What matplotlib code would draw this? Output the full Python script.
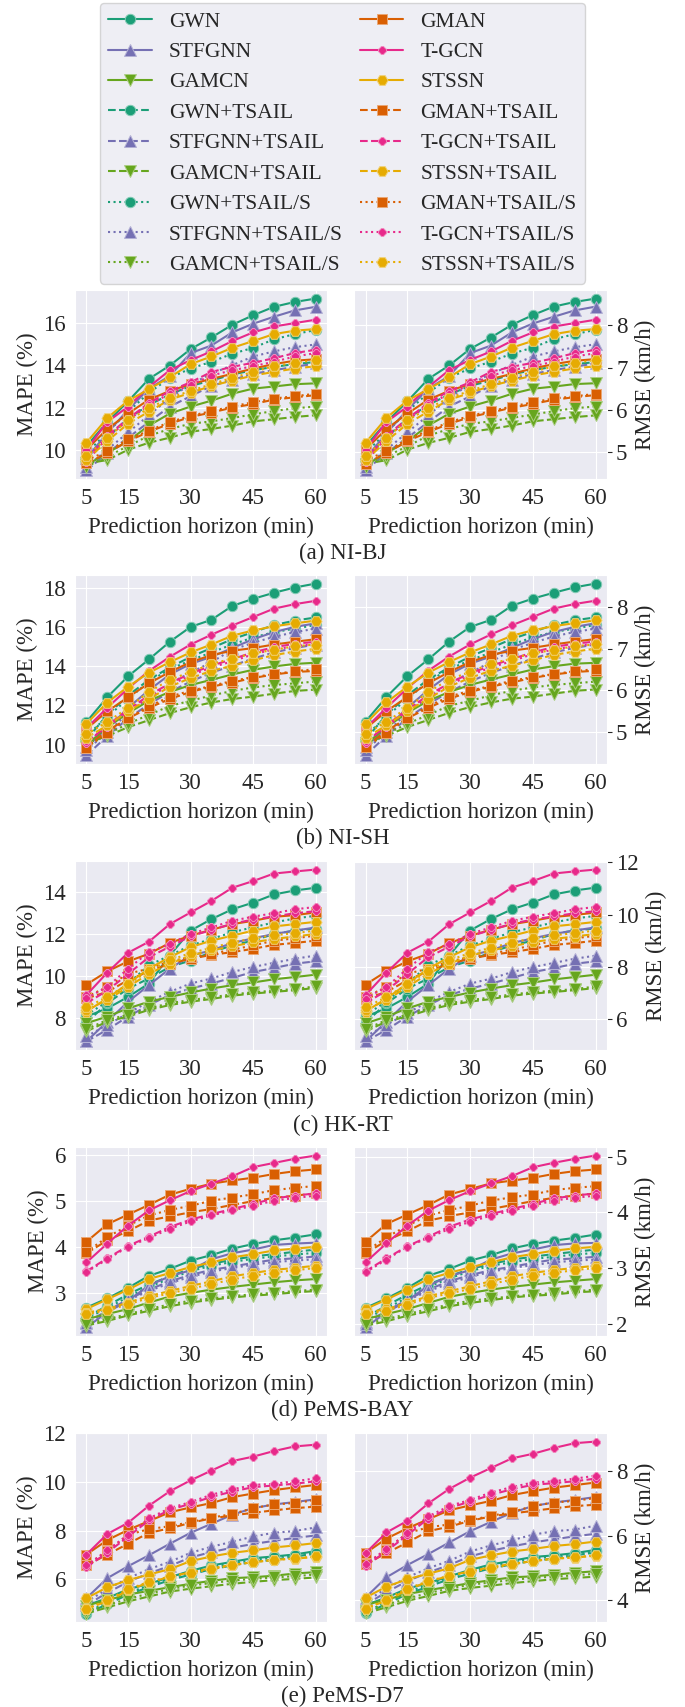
import matplotlib
matplotlib.use('Agg')
import matplotlib.pyplot as plt
from matplotlib.colors import to_rgb
import seaborn as sns

horizons = [5, 10, 15, 20, 25, 30, 35, 40, 45, 50, 55, 60]
models = ['GWN', 'STFGNN', 'GAMCN', 'GMAN', 'T-GCN', 'STSSN']
variants = ['', '+TSAIL', '+TSAIL/S']

# rows: model, model+TSAIL, model+TSAIL/S for each model in `models`
bj_mape = [
    [10.18, 11.32, 12.30, 13.36, 13.99, 14.77, 15.32, 15.92, 16.37, 16.77, 17.00, 17.16],
    [9.61, 10.59, 11.48, 12.13, 12.62, 13.03, 13.28, 13.57, 13.77, 13.93, 14.06, 14.16],
    [9.85, 10.83, 11.81, 12.70, 13.41, 13.85, 14.17, 14.55, 14.83, 15.23, 15.48, 15.67],
    [9.60, 10.80, 11.90, 12.90, 13.50, 14.58, 14.94, 15.56, 15.97, 16.30, 16.60, 16.77],
    [9.03, 9.85, 10.58, 11.32, 12.05, 12.54, 13.03, 13.31, 13.60, 13.77, 13.93, 14.09],
    [9.20, 10.01, 10.83, 11.64, 12.46, 13.11, 13.60, 14.01, 14.42, 14.66, 14.86, 14.99],
    [9.28, 9.85, 10.42, 11.15, 11.72, 12.05, 12.33, 12.66, 12.90, 13.00, 13.11, 13.15],
    [9.36, 9.52, 10.01, 10.34, 10.58, 10.86, 10.99, 11.15, 11.35, 11.45, 11.56, 11.64],
    [9.20, 9.69, 10.18, 10.67, 10.99, 11.24, 11.35, 11.51, 11.68, 11.84, 11.97, 12.05],
    [10.01, 10.99, 11.72, 12.38, 12.79, 13.11, 13.36, 13.60, 13.85, 14.06, 14.22, 14.29],
    [9.36, 9.85, 10.42, 10.86, 11.24, 11.56, 11.77, 12.00, 12.17, 12.38, 12.49, 12.59],
    [9.52, 9.93, 10.50, 10.91, 11.32, 11.61, 11.84, 12.05, 12.26, 12.43, 12.54, 12.66],
    [10.01, 11.32, 12.05, 12.98, 13.77, 14.25, 14.66, 15.15, 15.56, 15.84, 16.00, 16.16],
    [9.52, 10.67, 11.48, 12.21, 12.79, 13.20, 13.69, 13.93, 14.12, 14.34, 14.58, 14.74],
    [9.44, 10.58, 11.40, 12.13, 12.66, 13.08, 13.52, 13.77, 13.96, 14.17, 14.42, 14.58],
    [10.34, 11.51, 12.33, 12.87, 13.44, 14.06, 14.42, 14.83, 15.15, 15.48, 15.64, 15.72],
    [9.52, 10.42, 11.24, 11.81, 12.38, 12.70, 13.03, 13.28, 13.52, 13.69, 13.85, 13.96],
    [9.69, 10.58, 11.40, 11.97, 12.46, 12.79, 13.11, 13.41, 13.69, 13.96, 14.12, 14.25],
]
bj_rmse = [
    [5.14, 5.71, 6.20, 6.73, 7.05, 7.44, 7.71, 8.01, 8.24, 8.44, 8.55, 8.63],
    [4.86, 5.35, 5.79, 6.12, 6.36, 6.57, 6.69, 6.84, 6.94, 7.02, 7.08, 7.13],
    [4.98, 5.47, 5.96, 6.40, 6.76, 6.98, 7.14, 7.33, 7.47, 7.67, 7.79, 7.89],
    [4.85, 5.45, 6.00, 6.50, 6.80, 7.34, 7.52, 7.83, 8.04, 8.20, 8.35, 8.44],
    [4.57, 4.98, 5.34, 5.71, 6.08, 6.32, 6.57, 6.71, 6.85, 6.94, 7.02, 7.10],
    [4.65, 5.06, 5.47, 5.87, 6.28, 6.61, 6.85, 7.06, 7.26, 7.38, 7.48, 7.55],
    [4.69, 4.98, 5.26, 5.63, 5.91, 6.08, 6.22, 6.38, 6.50, 6.55, 6.61, 6.63],
    [4.73, 4.81, 5.06, 5.22, 5.34, 5.48, 5.55, 5.63, 5.73, 5.78, 5.83, 5.87],
    [4.65, 4.90, 5.14, 5.39, 5.55, 5.67, 5.73, 5.81, 5.89, 5.97, 6.04, 6.08],
    [5.06, 5.55, 5.91, 6.24, 6.45, 6.61, 6.73, 6.85, 6.98, 7.08, 7.16, 7.20],
    [4.73, 4.98, 5.26, 5.48, 5.67, 5.83, 5.94, 6.05, 6.14, 6.24, 6.30, 6.35],
    [4.81, 5.02, 5.30, 5.51, 5.71, 5.86, 5.97, 6.08, 6.18, 6.27, 6.32, 6.38],
    [5.06, 5.71, 6.08, 6.54, 6.94, 7.18, 7.38, 7.63, 7.83, 7.97, 8.05, 8.13],
    [4.81, 5.39, 5.79, 6.16, 6.45, 6.65, 6.90, 7.02, 7.11, 7.22, 7.34, 7.42],
    [4.77, 5.34, 5.75, 6.12, 6.38, 6.59, 6.81, 6.94, 7.03, 7.14, 7.26, 7.34],
    [5.22, 5.81, 6.22, 6.49, 6.77, 7.08, 7.26, 7.47, 7.63, 7.79, 7.87, 7.91],
    [4.81, 5.26, 5.67, 5.96, 6.24, 6.40, 6.57, 6.69, 6.81, 6.90, 6.98, 7.03],
    [4.90, 5.34, 5.75, 6.04, 6.28, 6.45, 6.61, 6.76, 6.90, 7.03, 7.11, 7.18],
]

sh_mape = [
    [11.16, 12.42, 13.49, 14.35, 15.25, 16.01, 16.37, 17.08, 17.44, 17.75, 18.02, 18.22],
    [10.26, 11.52, 12.51, 13.31, 13.94, 14.48, 14.93, 15.38, 15.74, 16.10, 16.33, 16.49],
    [10.44, 11.43, 12.33, 13.22, 13.85, 14.30, 14.71, 15.11, 15.47, 15.74, 15.92, 16.10],
    [9.90, 10.80, 11.88, 12.78, 13.58, 14.12, 14.48, 14.93, 15.38, 15.74, 16.01, 16.19],
    [9.45, 10.44, 11.34, 12.06, 12.69, 13.22, 13.67, 14.03, 14.39, 14.71, 14.93, 15.11],
    [9.72, 10.62, 11.61, 12.42, 13.13, 13.67, 14.21, 14.84, 15.20, 15.50, 15.74, 15.92],
    [9.99, 10.89, 11.61, 12.24, 12.69, 13.04, 13.31, 13.58, 13.82, 13.99, 14.12, 14.18],
    [10.08, 10.44, 10.89, 11.25, 11.61, 11.91, 12.15, 12.33, 12.45, 12.60, 12.74, 12.81],
    [9.90, 10.53, 11.07, 11.52, 11.97, 12.24, 12.51, 12.74, 12.92, 13.04, 13.13, 13.22],
    [10.80, 11.70, 12.42, 13.13, 13.71, 14.21, 14.57, 14.79, 14.93, 15.11, 15.25, 15.38],
    [9.90, 10.71, 11.34, 11.88, 12.33, 12.69, 12.96, 13.17, 13.40, 13.58, 13.71, 13.76],
    [9.85, 10.60, 11.35, 11.95, 12.45, 12.75, 13.00, 13.25, 13.45, 13.60, 13.75, 13.85],
    [10.84, 11.88, 12.87, 13.76, 14.48, 15.11, 15.61, 16.08, 16.51, 16.94, 17.17, 17.34],
    [10.08, 10.98, 11.79, 12.51, 13.13, 13.63, 14.03, 14.36, 14.71, 14.97, 15.15, 15.25],
    [10.17, 10.89, 11.70, 12.42, 13.04, 13.53, 13.94, 14.25, 14.61, 14.86, 15.02, 15.15],
    [11.07, 12.15, 12.96, 13.67, 14.21, 14.71, 15.11, 15.56, 15.83, 16.04, 16.19, 16.33],
    [10.35, 10.98, 11.70, 12.33, 12.96, 13.40, 13.76, 14.03, 14.30, 14.57, 14.75, 14.89],
    [10.53, 11.16, 11.88, 12.69, 13.31, 13.71, 14.12, 14.39, 14.66, 14.84, 15.02, 15.11],
]
sh_rmse = [
    [5.25, 5.84, 6.34, 6.74, 7.17, 7.52, 7.69, 8.03, 8.20, 8.34, 8.47, 8.56],
    [4.82, 5.41, 5.88, 6.26, 6.55, 6.81, 7.02, 7.23, 7.40, 7.57, 7.68, 7.75],
    [4.91, 5.37, 5.80, 6.21, 6.51, 6.72, 6.91, 7.10, 7.27, 7.40, 7.48, 7.57],
    [4.65, 5.08, 5.58, 6.01, 6.38, 6.64, 6.81, 7.02, 7.23, 7.40, 7.52, 7.61],
    [4.44, 4.91, 5.33, 5.67, 5.96, 6.21, 6.42, 6.59, 6.76, 6.91, 7.02, 7.10],
    [4.57, 4.99, 5.46, 5.84, 6.17, 6.42, 6.68, 6.97, 7.14, 7.29, 7.40, 7.48],
    [4.70, 5.12, 5.46, 5.75, 5.96, 6.13, 6.26, 6.38, 6.50, 6.58, 6.64, 6.66],
    [4.74, 4.91, 5.12, 5.29, 5.46, 5.60, 5.71, 5.80, 5.85, 5.92, 5.99, 6.02],
    [4.65, 4.95, 5.20, 5.41, 5.63, 5.75, 5.88, 5.99, 6.07, 6.13, 6.17, 6.21],
    [5.08, 5.50, 5.84, 6.17, 6.44, 6.68, 6.85, 6.95, 7.02, 7.10, 7.17, 7.23],
    [4.65, 5.03, 5.33, 5.58, 5.80, 5.96, 6.09, 6.19, 6.30, 6.38, 6.44, 6.47],
    [4.63, 4.98, 5.33, 5.62, 5.85, 5.99, 6.11, 6.23, 6.32, 6.39, 6.46, 6.51],
    [5.09, 5.58, 6.05, 6.47, 6.81, 7.10, 7.34, 7.56, 7.76, 7.96, 8.07, 8.15],
    [4.74, 5.16, 5.54, 5.88, 6.17, 6.41, 6.59, 6.75, 6.91, 7.04, 7.12, 7.17],
    [4.78, 5.12, 5.50, 5.84, 6.13, 6.36, 6.55, 6.70, 6.87, 6.98, 7.06, 7.12],
    [5.20, 5.71, 6.09, 6.42, 6.68, 6.91, 7.10, 7.31, 7.44, 7.54, 7.61, 7.68],
    [4.86, 5.16, 5.50, 5.80, 6.09, 6.30, 6.47, 6.59, 6.72, 6.85, 6.93, 7.00],
    [4.95, 5.25, 5.58, 5.96, 6.26, 6.44, 6.64, 6.76, 6.89, 6.97, 7.06, 7.10],
]

hk_mape = [
    [8.06, 8.45, 9.00, 9.64, 10.98, 12.17, 12.72, 13.19, 13.51, 13.90, 14.09, 14.22],
    [7.77, 8.69, 9.40, 9.88, 10.43, 10.74, 11.14, 11.46, 11.69, 12.01, 12.17, 12.27],
    [8.14, 8.77, 9.64, 10.51, 10.98, 11.46, 11.77, 12.09, 12.33, 12.56, 12.75, 12.88],
    [6.87, 7.82, 8.77, 9.56, 10.35, 10.98, 11.22, 11.58, 11.80, 12.01, 12.17, 12.32],
    [6.87, 7.43, 8.06, 8.61, 9.09, 9.40, 9.64, 9.91, 10.19, 10.38, 10.59, 10.70],
    [7.11, 7.66, 8.22, 8.77, 9.24, 9.64, 9.88, 10.19, 10.43, 10.63, 10.82, 10.98],
    [7.74, 8.06, 8.45, 8.77, 9.00, 9.21, 9.40, 9.56, 9.69, 9.84, 9.95, 10.06],
    [7.35, 7.82, 8.06, 8.38, 8.61, 8.77, 8.90, 9.06, 9.16, 9.24, 9.32, 9.43],
    [7.45, 7.90, 8.15, 8.45, 8.70, 8.85, 8.98, 9.12, 9.22, 9.30, 9.38, 9.50],
    [9.59, 10.22, 10.70, 11.06, 11.58, 11.93, 12.21, 12.48, 12.64, 12.83, 12.91, 13.04],
    [8.93, 9.24, 9.80, 10.22, 10.59, 10.82, 11.01, 11.14, 11.30, 11.49, 11.58, 11.69],
    [9.00, 9.48, 10.11, 10.35, 10.70, 10.90, 11.06, 11.26, 11.46, 11.69, 11.80, 11.93],
    [9.09, 10.16, 11.11, 11.64, 12.48, 13.04, 13.59, 14.22, 14.54, 14.90, 15.00, 15.09],
    [8.70, 9.30, 10.10, 10.90, 11.40, 11.90, 12.20, 12.50, 12.70, 12.85, 13.00, 13.10],
    [8.93, 9.48, 10.35, 11.14, 11.53, 12.01, 12.32, 12.64, 12.84, 13.00, 13.19, 13.30],
    [8.30, 8.93, 9.64, 10.35, 10.90, 11.38, 11.69, 11.93, 12.17, 12.37, 12.48, 12.59],
    [8.38, 8.85, 9.48, 10.11, 10.59, 10.98, 11.22, 11.42, 11.61, 11.77, 11.89, 12.01],
    [8.50, 9.00, 9.60, 10.25, 10.75, 11.10, 11.35, 11.60, 11.80, 11.95, 12.05, 12.17],
]
hk_rmse = [
    [6.10, 6.41, 6.85, 7.36, 8.43, 9.39, 9.83, 10.20, 10.46, 10.77, 10.92, 11.03],
    [5.87, 6.60, 7.17, 7.55, 7.99, 8.24, 8.56, 8.82, 9.00, 9.26, 9.39, 9.47],
    [6.16, 6.67, 7.36, 8.06, 8.43, 8.82, 9.07, 9.32, 9.51, 9.70, 9.85, 9.95],
    [5.15, 5.91, 6.67, 7.30, 7.93, 8.43, 8.63, 8.91, 9.09, 9.26, 9.39, 9.51],
    [5.15, 5.59, 6.10, 6.54, 6.92, 7.17, 7.36, 7.58, 7.80, 7.95, 8.12, 8.21],
    [5.34, 5.78, 6.23, 6.67, 7.04, 7.36, 7.55, 7.80, 7.99, 8.15, 8.31, 8.43],
    [5.84, 6.10, 6.41, 6.67, 6.85, 7.02, 7.17, 7.30, 7.40, 7.52, 7.61, 7.70],
    [5.53, 5.91, 6.10, 6.35, 6.54, 6.67, 6.77, 6.90, 6.98, 7.04, 7.11, 7.19],
    [5.61, 5.97, 6.17, 6.41, 6.61, 6.73, 6.83, 6.95, 7.03, 7.09, 7.15, 7.25],
    [7.32, 7.83, 8.21, 8.50, 8.91, 9.19, 9.42, 9.63, 9.76, 9.91, 9.98, 10.08],
    [6.79, 7.04, 7.49, 7.83, 8.12, 8.31, 8.46, 8.56, 8.69, 8.84, 8.91, 9.00],
    [6.85, 7.23, 7.74, 7.93, 8.21, 8.37, 8.50, 8.66, 8.82, 9.00, 9.09, 9.19],
    [6.92, 7.78, 8.54, 8.96, 9.63, 10.08, 10.52, 11.03, 11.28, 11.57, 11.65, 11.72],
    [6.61, 7.09, 7.73, 8.37, 8.77, 9.17, 9.41, 9.65, 9.81, 9.93, 10.05, 10.13],
    [6.79, 7.23, 7.93, 8.56, 8.87, 9.26, 9.51, 9.76, 9.92, 10.05, 10.20, 10.29],
    [6.29, 6.79, 7.36, 7.93, 8.37, 8.75, 9.00, 9.19, 9.39, 9.55, 9.63, 9.72],
    [6.35, 6.73, 7.23, 7.74, 8.12, 8.43, 8.63, 8.79, 8.94, 9.07, 9.16, 9.26],
    [6.45, 6.85, 7.33, 7.85, 8.25, 8.53, 8.73, 8.93, 9.09, 9.21, 9.29, 9.39],
]

bay_mape = [
    [2.69, 2.89, 3.12, 3.38, 3.53, 3.71, 3.83, 3.97, 4.07, 4.15, 4.21, 4.28],
    [2.48, 2.73, 2.98, 3.19, 3.37, 3.53, 3.64, 3.73, 3.80, 3.85, 3.90, 3.95],
    [2.45, 2.68, 2.92, 3.14, 3.32, 3.48, 3.60, 3.68, 3.75, 3.80, 3.84, 3.88],
    [2.26, 2.59, 2.84, 3.17, 3.37, 3.50, 3.74, 3.87, 3.95, 4.05, 4.08, 4.10],
    [2.37, 2.62, 2.87, 3.08, 3.26, 3.40, 3.51, 3.58, 3.66, 3.73, 3.76, 3.80],
    [2.35, 2.60, 2.85, 3.05, 3.22, 3.36, 3.47, 3.55, 3.62, 3.68, 3.71, 3.74],
    [2.44, 2.55, 2.66, 2.80, 2.93, 3.01, 3.08, 3.14, 3.19, 3.24, 3.28, 3.31],
    [2.30, 2.40, 2.52, 2.62, 2.72, 2.80, 2.86, 2.91, 2.95, 2.98, 3.02, 3.05],
    [2.34, 2.44, 2.55, 2.66, 2.76, 2.84, 2.89, 2.94, 2.98, 3.01, 3.05, 3.08],
    [4.12, 4.50, 4.71, 4.92, 5.14, 5.27, 5.38, 5.45, 5.51, 5.59, 5.65, 5.69],
    [3.87, 4.15, 4.35, 4.58, 4.67, 4.76, 4.83, 4.92, 5.00, 5.07, 5.12, 5.17],
    [3.90, 4.22, 4.47, 4.69, 4.81, 4.90, 5.01, 5.08, 5.15, 5.24, 5.29, 5.33],
    [3.67, 4.08, 4.47, 4.80, 5.02, 5.22, 5.38, 5.54, 5.74, 5.83, 5.92, 5.99],
    [3.48, 3.76, 4.03, 4.23, 4.44, 4.60, 4.72, 4.83, 4.94, 5.06, 5.12, 5.17],
    [3.46, 3.74, 4.01, 4.20, 4.40, 4.56, 4.69, 4.80, 4.90, 5.01, 5.07, 5.12],
    [2.66, 2.87, 3.08, 3.31, 3.44, 3.57, 3.67, 3.78, 3.85, 3.93, 3.97, 4.01],
    [2.58, 2.66, 2.80, 2.94, 3.05, 3.16, 3.26, 3.37, 3.44, 3.51, 3.55, 3.60],
    [2.55, 2.63, 2.76, 2.90, 3.00, 3.10, 3.20, 3.30, 3.38, 3.45, 3.50, 3.55],
]
bay_rmse = [
    [2.28, 2.45, 2.64, 2.86, 2.98, 3.13, 3.23, 3.35, 3.43, 3.49, 3.54, 3.60],
    [2.11, 2.32, 2.52, 2.70, 2.85, 2.98, 3.07, 3.15, 3.20, 3.25, 3.29, 3.33],
    [2.08, 2.27, 2.47, 2.66, 2.81, 2.94, 3.04, 3.10, 3.16, 3.20, 3.24, 3.27],
    [1.93, 2.20, 2.41, 2.68, 2.85, 2.96, 3.15, 3.26, 3.33, 3.41, 3.44, 3.45],
    [2.02, 2.22, 2.43, 2.61, 2.76, 2.87, 2.96, 3.02, 3.09, 3.15, 3.17, 3.20],
    [2.00, 2.21, 2.42, 2.58, 2.72, 2.84, 2.93, 3.00, 3.05, 3.10, 3.13, 3.15],
    [2.08, 2.17, 2.26, 2.37, 2.48, 2.55, 2.61, 2.66, 2.70, 2.74, 2.77, 2.80],
    [1.96, 2.04, 2.14, 2.22, 2.31, 2.37, 2.42, 2.47, 2.50, 2.52, 2.56, 2.58],
    [1.99, 2.08, 2.17, 2.26, 2.34, 2.41, 2.45, 2.49, 2.52, 2.55, 2.58, 2.61],
    [3.47, 3.79, 3.96, 4.13, 4.32, 4.42, 4.52, 4.57, 4.62, 4.69, 4.74, 4.77],
    [3.26, 3.49, 3.66, 3.85, 3.93, 4.00, 4.06, 4.13, 4.20, 4.26, 4.30, 4.34],
    [3.29, 3.55, 3.76, 3.94, 4.04, 4.12, 4.21, 4.27, 4.32, 4.40, 4.44, 4.47],
    [3.10, 3.44, 3.76, 4.03, 4.22, 4.38, 4.52, 4.65, 4.81, 4.89, 4.96, 5.02],
    [2.94, 3.17, 3.39, 3.56, 3.74, 3.87, 3.97, 4.06, 4.15, 4.25, 4.30, 4.34],
    [2.92, 3.15, 3.38, 3.54, 3.70, 3.83, 3.94, 4.03, 4.12, 4.21, 4.26, 4.30],
    [2.26, 2.43, 2.61, 2.80, 2.91, 3.01, 3.10, 3.19, 3.25, 3.31, 3.35, 3.38],
    [2.19, 2.26, 2.37, 2.49, 2.58, 2.67, 2.76, 2.85, 2.91, 2.96, 3.00, 3.04],
    [2.17, 2.23, 2.34, 2.46, 2.54, 2.62, 2.71, 2.79, 2.86, 2.91, 2.96, 3.00],
]

d7_mape = [
    [4.93, 5.23, 5.60, 5.82, 6.09, 6.35, 6.57, 6.72, 6.87, 6.94, 7.02, 7.16],
    [4.60, 4.98, 5.38, 5.68, 5.97, 6.20, 6.42, 6.57, 6.72, 6.80, 6.94, 7.05],
    [4.65, 5.05, 5.45, 5.75, 6.05, 6.28, 6.50, 6.66, 6.80, 6.90, 7.00, 7.10],
    [5.23, 6.05, 6.54, 6.99, 7.46, 7.91, 8.28, 8.65, 8.92, 9.07, 9.17, 9.28],
    [4.95, 5.45, 5.90, 6.25, 6.55, 6.90, 7.12, 7.30, 7.45, 7.58, 7.70, 7.80],
    [5.08, 5.60, 6.05, 6.42, 6.72, 7.09, 7.34, 7.54, 7.76, 7.91, 7.98, 8.13],
    [4.93, 5.15, 5.38, 5.53, 5.68, 5.82, 5.94, 6.05, 6.09, 6.15, 6.24, 6.30],
    [4.60, 4.85, 5.10, 5.30, 5.50, 5.62, 5.72, 5.82, 5.90, 5.97, 6.02, 6.08],
    [4.70, 4.95, 5.20, 5.42, 5.60, 5.75, 5.85, 5.95, 6.02, 6.08, 6.13, 6.20],
    [7.02, 7.61, 8.03, 8.39, 8.75, 8.95, 9.13, 9.37, 9.52, 9.66, 9.77, 9.87],
    [6.57, 7.02, 7.46, 7.91, 8.09, 8.32, 8.50, 8.62, 8.73, 8.83, 8.92, 8.98],
    [6.57, 7.16, 7.83, 8.06, 8.18, 8.35, 8.53, 8.68, 8.92, 9.07, 9.13, 9.25],
    [7.02, 7.86, 8.32, 9.02, 9.61, 10.06, 10.46, 10.85, 11.03, 11.26, 11.45, 11.52],
    [6.50, 7.10, 7.75, 8.42, 8.85, 9.10, 9.38, 9.60, 9.78, 9.85, 9.92, 10.02],
    [6.57, 7.19, 7.83, 8.50, 8.92, 9.17, 9.47, 9.69, 9.87, 9.92, 10.02, 10.14],
    [5.23, 5.68, 5.97, 6.20, 6.42, 6.75, 6.94, 7.09, 7.19, 7.31, 7.39, 7.49],
    [4.80, 5.10, 5.55, 5.88, 6.10, 6.30, 6.45, 6.60, 6.70, 6.80, 6.85, 6.92],
    [4.78, 5.15, 5.60, 5.90, 6.12, 6.27, 6.42, 6.57, 6.72, 6.79, 6.87, 6.94],
]
d7_rmse = [
    [3.85, 4.08, 4.36, 4.53, 4.74, 4.94, 5.11, 5.22, 5.34, 5.39, 5.46, 5.56],
    [3.59, 3.88, 4.19, 4.42, 4.65, 4.82, 4.99, 5.11, 5.22, 5.29, 5.39, 5.48],
    [3.63, 3.94, 4.25, 4.48, 4.71, 4.89, 5.06, 5.18, 5.29, 5.36, 5.44, 5.52],
    [4.08, 4.71, 5.09, 5.43, 5.79, 6.14, 6.43, 6.71, 6.92, 7.03, 7.11, 7.20],
    [3.86, 4.25, 4.59, 4.86, 5.09, 5.36, 5.53, 5.67, 5.79, 5.89, 5.98, 6.06],
    [3.96, 4.36, 4.71, 4.99, 5.22, 5.51, 5.70, 5.86, 6.03, 6.14, 6.19, 6.31],
    [3.85, 4.02, 4.19, 4.31, 4.42, 4.53, 4.62, 4.71, 4.74, 4.79, 4.85, 4.90],
    [3.59, 3.78, 3.98, 4.13, 4.29, 4.38, 4.45, 4.53, 4.59, 4.65, 4.69, 4.73],
    [3.67, 3.86, 4.05, 4.22, 4.36, 4.48, 4.55, 4.63, 4.69, 4.73, 4.77, 4.82],
    [5.46, 5.91, 6.23, 6.51, 6.79, 6.94, 7.08, 7.26, 7.38, 7.49, 7.57, 7.65],
    [5.11, 5.46, 5.79, 6.14, 6.28, 6.46, 6.60, 6.69, 6.77, 6.85, 6.92, 6.96],
    [5.11, 5.56, 6.08, 6.26, 6.35, 6.48, 6.62, 6.73, 6.92, 7.03, 7.08, 7.17],
    [5.46, 6.10, 6.46, 7.00, 7.45, 7.80, 8.10, 8.40, 8.54, 8.72, 8.87, 8.92],
    [5.06, 5.52, 6.02, 6.53, 6.86, 7.06, 7.27, 7.44, 7.58, 7.63, 7.69, 7.77],
    [5.11, 5.59, 6.08, 6.60, 6.92, 7.11, 7.34, 7.51, 7.65, 7.69, 7.77, 7.86],
    [4.08, 4.42, 4.65, 4.82, 4.99, 5.25, 5.39, 5.51, 5.59, 5.68, 5.74, 5.82],
    [3.75, 3.98, 4.32, 4.58, 4.75, 4.90, 5.02, 5.13, 5.21, 5.29, 5.32, 5.38],
    [3.73, 4.02, 4.36, 4.59, 4.76, 4.88, 4.99, 5.11, 5.22, 5.28, 5.34, 5.39],
]

captions = ['(a) NI-BJ', '(b) NI-SH', '(c) HK-RT', '(d) PeMS-BAY', '(e) PeMS-D7']
mape_ticks = [[10, 12, 14, 16], [10, 12, 14, 16, 18], [8, 10, 12, 14], [3, 4, 5, 6], [6, 8, 10, 12]]
rmse_ticks = [[5, 6, 7, 8], [5, 6, 7, 8], [6, 8, 10, 12], [2, 3, 4, 5], [4, 6, 8]]

colors = {'GWN': '#1b9e77', 'STFGNN': '#7570b3', 'GAMCN': '#66a61e',
          'GMAN': '#d95f02', 'T-GCN': '#e7298a', 'STSSN': '#e6ab02'}
markers = {'GWN': ('o', 7.5), 'STFGNN': ('^', 8), 'GAMCN': ('v', 8),
           'GMAN': ('s', 7), 'T-GCN': ('8', 5.5), 'STSSN': ('H', 8)}
styles = {'': '-', '+TSAIL': '--', '+TSAIL/S': ':'}


def lighter(c, f=0.45):
    r, g, b = to_rgb(c)
    return (r + (1 - r) * f, g + (1 - g) * f, b + (1 - b) * f)


sns.set_style('darkgrid')
plt.rcParams['font.family'] = ['Liberation Serif', 'DejaVu Serif']
plt.rcParams['font.size'] = 16.5

W, H = 685, 1707
fig = plt.figure(figsize=(W / 100, H / 100), dpi=100)

panels = [(bj_mape, bj_rmse), (sh_mape, sh_rmse), (hk_mape, hk_rmse),
          (bay_mape, bay_rmse), (d7_mape, d7_rmse)]
row_bottoms = [479, 764, 1050, 1336, 1622]
cap_y = [553, 838, 1125, 1410, 1696]
ax_h = 189

handles = {}
for i, (mape, rmse) in enumerate(panels):
    b = 1 - row_bottoms[i] / H
    axl = fig.add_axes([75 / W, b, 252 / W, ax_h / H])
    axr = fig.add_axes([354 / W, b, 253 / W, ax_h / H])
    k = 0
    for m in models:
        mk, ms = markers[m]
        for v in variants:
            for ax, data in ((axl, mape), (axr, rmse)):
                line, = ax.plot(horizons, data[k], color=colors[m], ls=styles[v],
                                marker=mk, ms=ms, lw=1.5, mec=lighter(colors[m]),
                                mew=0.7, label=m + v)
            handles[m + v] = line
            k += 1
    for ax in (axl, axr):
        ax.set_xticks([5, 15, 30, 45, 60])
        ax.set_xlabel('Prediction horizon (min)', labelpad=6)
        ax.tick_params(pad=3)
    axl.set_yticks(mape_ticks[i])
    axl.set_ylabel('MAPE (%)', labelpad=4)
    axr.set_yticks(rmse_ticks[i])
    axr.yaxis.tick_right()
    axr.yaxis.set_label_position('right')
    axr.set_ylabel('RMSE (km/h)', labelpad=5)
    fig.text(0.5, 1 - cap_y[i] / H, captions[i], ha='center', va='center')

order = [m + v for group in (models[:3], models[3:]) for v in variants for m in group]
fig.legend([handles[n] for n in order], order, ncol=2, loc='upper center',
           bbox_to_anchor=(0.5, 1 - 3 / H), borderaxespad=0, fontsize=15.5,
           labelspacing=0.48, columnspacing=0.8, handletextpad=0.8,
           handlelength=2.0, frameon=True)

fig.savefig('out.png', dpi=100)
